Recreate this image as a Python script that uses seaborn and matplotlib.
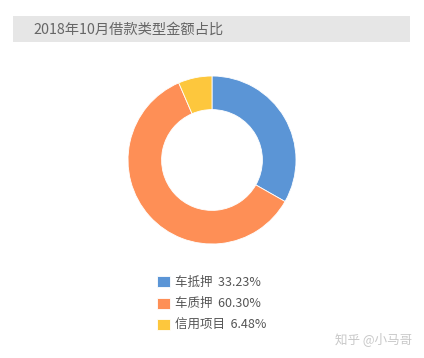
import numpy as np
import matplotlib.pyplot as plt
import matplotlib.patches as mpatches
import seaborn as sns

sns.set_theme(style="white")
plt.rcParams['font.family'] = ['Noto Sans CJK SC', 'DejaVu Sans']

tytul = "2018年10月借款类型金额占比"
typy = ["车抵押", "车质押", "信用项目"]
udzialy = [33.23, 60.30, 6.48]
kolory = ["#5b95d6", "#fe8f56", "#fdc73d"]

fig = plt.figure(figsize=(4.24, 3.58), dpi=100)
fig.patch.set_facecolor("white")

# pasek tytulu
pasek = mpatches.Rectangle((13/424, 1-42/358), 397/424, 26/358, transform=fig.transFigure,
                           facecolor="#e6e6e6", edgecolor="none", zorder=0)
fig.patches.append(pasek)
fig.text(33/424, 1-29.5/358, tytul, fontsize=10.3, color="#666666", va="center", ha="left")

ax = fig.add_axes([(212-84)/424, 1-(160+84)/358, 168/424, 168/358])
wedges, _ = ax.pie(udzialy, colors=kolory, startangle=90, counterclock=False,
                   radius=1, wedgeprops=dict(width=0.4, edgecolor="white", linewidth=0.6))
ax.set_xlim(-1, 1)
ax.set_ylim(-1, 1)
ax.set_aspect("equal")
ax.axis("off")

etykiety = [f"{t}  {u:.2f}%" for t, u in zip(typy, udzialy)]
fig.legend(handles=wedges, labels=etykiety, loc="upper left",
           bbox_to_anchor=(157/424, 1-276/358), frameon=False, fontsize=9,
           handlelength=1.0, handleheight=1.0, handletextpad=0.45, labelspacing=0.68,
           labelcolor="#555555", borderaxespad=0, borderpad=0)

fig.text(412/424, 1-339/358, "知乎 @小马哥", fontsize=9, color="#c8c8c8", ha="right", va="center")

plt.savefig("out.png", dpi=100)
